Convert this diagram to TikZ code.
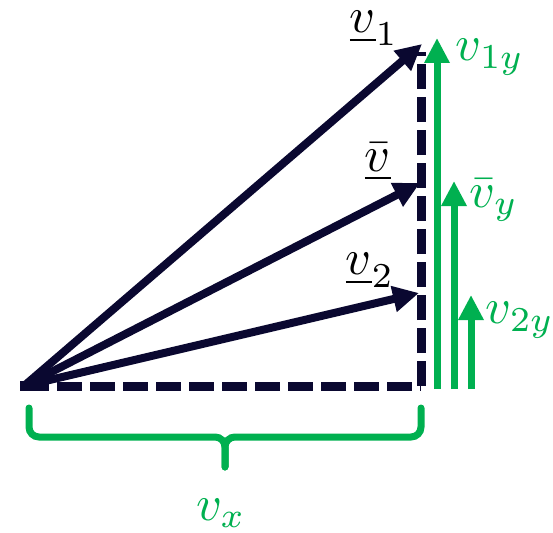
\documentclass[tikz,border=0pt]{standalone}
\usetikzlibrary{arrows.meta}
\definecolor{navy}{RGB}{10,8,48}
\definecolor{grn}{RGB}{0,176,80}
\begin{document}
\begin{tikzpicture}[x=1pt,y=-1pt,
  vec/.style={draw=navy, line width=8pt, -{Triangle[length=26pt,width=25pt]}},
  comp/.style={draw=grn, line width=7pt, -{Triangle[length=25pt,width=24pt]}},
  dline/.style={draw=navy, line width=9pt, dash pattern=on 25pt off 8pt},
  brace/.style={draw=grn, line width=7pt, rounded corners=10pt, line cap=round},
  lbl/.style={scale=5, inner sep=0pt},
  glbl/.style={lbl, text=grn}]
\useasboundingbox (0,0) rectangle (553,532);
\coordinate (O) at (24,386);
\coordinate (C) at (421,386);
\coordinate (D) at (421,52);
\coordinate (T1) at (422,44);
\coordinate (TB) at (420,183);
\coordinate (T2) at (419,293);
\coordinate (G1b) at (437,389);
\coordinate (G1t) at (437,38);
\coordinate (G2b) at (454,389);
\coordinate (G2t) at (454,181);
\coordinate (G3b) at (471,389);
\coordinate (G3t) at (471,295);
\draw[dline] (O) -- (C);
\draw[dline] (C) -- (D);
\draw[vec] (O) -- (T1);
\draw[vec] (O) -- (TB);
\draw[vec] (O) -- (T2);
\fill[navy] (20,381) rectangle (36,391);
\draw[comp] (G1b) -- (G1t);
\draw[comp] (G2b) -- (G2t);
\draw[comp] (G3b) -- (G3t);
\coordinate (BL) at (29,408);
\coordinate (BR) at (421,408);
\coordinate (BT) at (225,467);
\draw[brace] (BL) -- (29,437) -- (225,437) -- (BT);
\draw[brace] (BT) -- (225,437) -- (421,437) -- (BR);
\node[lbl] (l1) at (374,28) {$\underline{v}_1$};
\node[lbl] (lb) at (378,162) {$\underline{\bar{v}}$};
\node[lbl] (l2) at (370,270) {$\underline{v}_2$};
\node[glbl] (g1) at (490,57) {$v_{1y}$};
\node[glbl] (gb) at (494,200) {$\bar{v}_y$};
\node[glbl] (g2) at (520,320) {$v_{2y}$};
\node[glbl] (gx) at (221,513) {$v_x$};
\end{tikzpicture}
\end{document}
